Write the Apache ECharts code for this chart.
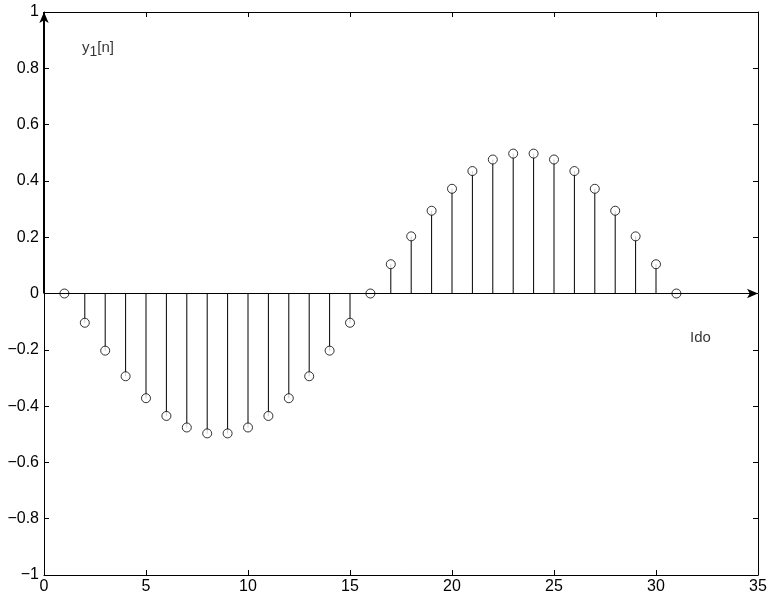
<!DOCTYPE html>
<html>
<head>
<meta charset="utf-8">
<script src="https://cdn.jsdelivr.net/npm/echarts@6/dist/echarts.min.js"></script>
<style>
  html, body { margin: 0; padding: 0; background: #fff; }
  #chart { width: 770px; height: 596px; }
</style>
</head>
<body>
<div id="chart"></div>
<script>
// Sample index n and sequence values y1[n]
const nIndex = [1, 2, 3, 4, 5, 6, 7, 8, 9, 10, 11, 12, 13, 14, 15, 16,
                17, 18, 19, 20, 21, 22, 23, 24, 25, 26, 27, 28, 29, 30, 31];
const y1Values = [0, -0.104, -0.203, -0.294, -0.372, -0.435, -0.476, -0.497, -0.497, -0.476,
                  -0.435, -0.372, -0.294, -0.203, -0.104, 0, 0.104, 0.203, 0.294, 0.372,
                  0.435, 0.476, 0.497, 0.497, 0.476, 0.435, 0.372, 0.294, 0.203, 0.104, 0];

const xRange = [0, 35];
const xStep = 5;
const yRange = [-1, 1];
const yStep = 0.2;

const FONT = '"Liberation Sans", Arial, Helvetica, sans-serif';
const FS = 16;
const points = nIndex.map((n, i) => [n, y1Values[i]]);

const fmtNum = v => {
  const r = Math.round(v * 10) / 10;
  return String(r).replace('-', '\u2212');
};

const baseAxis = {
  axisLine: { show: true, onZero: false, lineStyle: { color: '#000', width: 1 } },
  axisTick: { show: true, inside: true, length: 5, lineStyle: { color: '#000', width: 1 } },
  splitLine: { show: false }
};

const chart = echarts.init(document.getElementById('chart'), null, { renderer: 'canvas' });

chart.setOption({
  animation: false,
  backgroundColor: '#fff',
  grid: { left: 44, right: 12, top: 12, bottom: 21, containLabel: false },
  xAxis: [
    Object.assign({}, baseAxis, {
      type: 'value', position: 'bottom', min: xRange[0], max: xRange[1], interval: xStep,
      axisLabel: { color: '#000', fontFamily: FONT, fontSize: FS, margin: 4, formatter: fmtNum }
    }),
    Object.assign({}, baseAxis, {
      type: 'value', position: 'top', min: xRange[0], max: xRange[1], interval: xStep,
      axisLabel: { show: false }
    })
  ],
  yAxis: [
    Object.assign({}, baseAxis, {
      type: 'value', position: 'left', min: yRange[0], max: yRange[1], interval: yStep,
      axisLabel: { color: '#000', fontFamily: FONT, fontSize: FS, margin: 5, formatter: fmtNum }
    }),
    Object.assign({}, baseAxis, {
      type: 'value', position: 'right', min: yRange[0], max: yRange[1], interval: yStep,
      axisLabel: { show: false }
    })
  ],
  series: [
    {
      // stems from the zero line to each sample
      type: 'custom',
      xAxisIndex: 0, yAxisIndex: 0,
      data: points,
      z: 2,
      renderItem: function (params, api) {
        const p0 = api.coord([api.value(0), 0]);
        const p1 = api.coord([api.value(0), api.value(1)]);
        return {
          type: 'line',
          shape: { x1: p0[0], y1: p0[1], x2: p1[0], y2: p1[1] },
          style: { stroke: '#000', lineWidth: 1 }
        };
      }
    },
    {
      // axis arrows through the origin
      type: 'line',
      xAxisIndex: 0, yAxisIndex: 0,
      data: [],
      markLine: {
        silent: true,
        symbol: ['none', 'arrow'],
        symbolSize: [7, 11],
        label: { show: false },
        data: [
          [{ coord: [0, 0], lineStyle: { color: '#000', width: 1, type: 'solid' } },
           { coord: [35, 0] }],
          [{ coord: [0, 0], lineStyle: { color: '#000', width: 2, type: 'solid' } },
           { coord: [0, 1] }]
        ]
      }
    },
    {
      // sample markers
      type: 'scatter',
      xAxisIndex: 0, yAxisIndex: 0,
      data: points,
      symbol: 'circle',
      symbolSize: 9,
      z: 4,
      itemStyle: { color: '#fff', borderColor: '#000', borderWidth: 1 }
    },
    {
      // axis titles
      type: 'scatter',
      xAxisIndex: 0, yAxisIndex: 0,
      symbolSize: 0,
      silent: true,
      data: [
        { value: [1.86, 0.872], label: { formatter: '{n|y}{s|1}{n|[n]}' } },
        { value: [31.67, -0.158], label: { formatter: '{n|Ido}' } }
      ],
      label: {
        show: true,
        position: 'right',
        distance: 0,
        rich: {
          n: { fontFamily: FONT, fontSize: 15, color: '#000' },
          s: { fontFamily: FONT, fontSize: 14, color: '#000', verticalAlign: 'bottom', padding: [9, 0, 0, 0] }
        }
      }
    }
  ]
});
</script>
</body>
</html>
